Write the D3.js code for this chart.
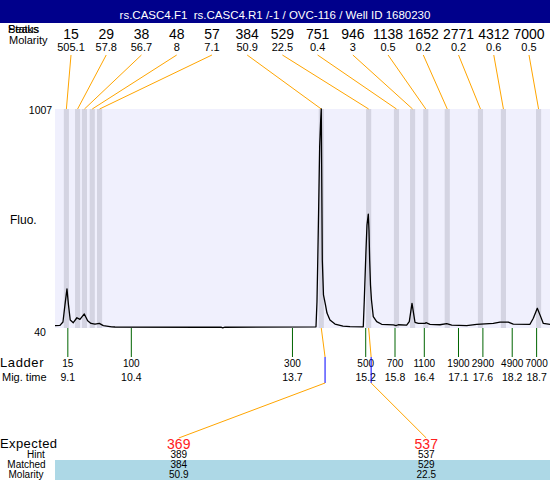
<!DOCTYPE html>
<html><head><meta charset="utf-8">
<script src="https://cdn.jsdelivr.net/npm/d3@7"></script>
<style>body{margin:0;background:#fff} svg{display:block;font-family:"Liberation Sans",Arial,sans-serif}</style>
</head><body><svg id="c" width="550" height="480"></svg>
<script>
const title = "rs.CASC4.F1  rs.CASC4.R1 /-1 / OVC-116 / Well ID 1680230";
const peakSizes = [15,29,38,48,57,384,529,751,946,1138,1652,2771,4312,7000];
const peakMolarity = ["505.1","57.8","56.7","8","7.1","50.9","22.5","0.4","3","0.5","0.2","0.2","0.6","0.5"];
const peakTimes = [9.07,9.30,9.44,9.60,9.75,14.29,15.26,15.83,16.16,16.43,16.87,17.55,18.02,18.74];
const ladderSizes = [15,100,300,500,700,1100,1900,2900,4900,7000];
const ladderTimes = [9.1,10.4,13.7,15.2,15.8,16.4,17.1,17.6,18.2,18.7];
const yTicks = [40,1007];
const traceTime = [8.837,8.939,9.000,9.041,9.082,9.113,9.149,9.211,9.286,9.348,9.437,9.506,9.574,9.656,9.744,9.826,9.998,10.066,11.806,12.236,12.271,12.318,14.182,14.202,14.217,14.237,14.257,14.278,14.290,14.311,14.335,14.376,14.407,14.468,14.571,14.735,14.878,15.150,15.171,15.206,15.226,15.253,15.267,15.281,15.298,15.318,15.355,15.425,15.527,15.765,15.820,15.867,16.039,16.092,16.148,16.209,16.277,16.414,16.434,16.516,16.721,16.858,16.961,17.268,17.473,17.813,17.950,18.120,18.222,18.564,18.632,18.714,18.783,18.837,18.974];
const traceFluo = [46,47,62,138,209,138,71,59,81,74,98,68,56,53,56,46,41,40,39,39,36,39,41,152,324,574,840,958,1007,337,182,138,102,71,53,44,42,41,160,382,492,541,470,337,226,160,86,64,52,49,46,50,48,64,145,61,56,56,59,52,50,55,48,46,52,56,62,62,53,52,79,123,86,56,52];
const expectedSizes = ["369","537"];
const hintSizes = [389,537];
const matchedPeak = [5,6];
const matchedSizes = ["384","529"];
const matchedMolarity = ["50.9","22.5"];

const svg = d3.select("#c");
const L=55,R=550,T=109,B=328;
const x = d3.scaleLinear().domain([8.837,18.974]).range([L,R]);
const y = d3.scaleLinear().domain([40,1007]).range([327,T]);
const sizeToTime = d3.scaleLinear().domain(ladderSizes).range(ladderTimes);
const ORANGE="#ffa500";

// header
svg.append("rect").attr("x",0).attr("y",0).attr("width",550).attr("height",23).attr("fill","#00008b");
svg.append("text").attr("x",275).attr("y",19).attr("text-anchor","middle").attr("fill","#fff")
  .attr("font-size",11.5).style("white-space","pre").text(title);

// left header labels (overlapping as in original)
svg.append("text").attr("x",8).attr("y",32.5).attr("font-size",11).text("Peaks");
svg.append("text").attr("x",8).attr("y",32.5).attr("font-size",11).text("Status");
svg.append("text").attr("x",9).attr("y",44).attr("font-size",11).text("Molarity");

// plot background
svg.append("rect").attr("x",L).attr("y",T).attr("width",R-L).attr("height",B-T).attr("fill","#f0f0fd");
const bw = 0.105;
svg.append("g").selectAll("rect").data(peakTimes).join("rect")
  .attr("x",d=>x(d-bw/2)).attr("width",d=>x(d+bw/2)-x(d-bw/2))
  .attr("y",T).attr("height",B-T).attr("fill","#d4d4e2");

// top labels
const lx = d3.scalePoint().domain(d3.range(peakSizes.length)).range([71,529]);
svg.append("g").selectAll("text").data(peakSizes).join("text")
  .attr("x",(d,i)=>lx(i)).attr("y",39).attr("text-anchor","middle").attr("font-size",14).text(d=>d);
svg.append("g").selectAll("text").data(peakMolarity).join("text")
  .attr("x",(d,i)=>lx(i)).attr("y",50.5).attr("text-anchor","middle").attr("font-size",11).text(d=>d);
svg.append("g").selectAll("line").data(peakTimes).join("line")
  .attr("x1",(d,i)=>lx(i)).attr("y1",55).attr("x2",d=>x(d)).attr("y2",T)
  .attr("stroke",ORANGE).attr("stroke-width",1);

// y labels
svg.append("text").attr("x",40.5).attr("y",114).attr("text-anchor","middle").attr("font-size",10.5).text(yTicks[1]);
svg.append("text").attr("x",40).attr("y",336).attr("text-anchor","middle").attr("font-size",10.5).text(yTicks[0]);
svg.append("text").attr("x",10).attr("y",224).attr("font-size",12).text("Fluo.");

// trace
const pts = traceTime.map((t,i)=>[t,traceFluo[i]]);
svg.append("path").datum(pts).attr("fill","none").attr("stroke","#000").attr("stroke-width",1.3)
  .attr("stroke-linejoin","round")
  .attr("d",d3.line().x(d=>x(d[0])).y(d=>y(d[1])));

// ladder
svg.append("g").selectAll("line").data(ladderTimes).join("line")
  .attr("x1",d=>x(d)).attr("x2",d=>x(d)).attr("y1",B).attr("y2",357)
  .attr("stroke","#006400").attr("stroke-width",1);
svg.append("text").attr("x",0).attr("y",366.5).attr("font-size",13).attr("letter-spacing",0.6).text("Ladder");
svg.append("text").attr("x",2).attr("y",380.5).attr("font-size",11).text("Mig. time");
svg.append("g").selectAll("text").data(ladderSizes).join("text")
  .attr("x",(d,i)=>x(ladderTimes[i])).attr("y",366.5).attr("text-anchor","middle").attr("font-size",10).text(d=>d);
svg.append("g").selectAll("text").data(ladderTimes).join("text")
  .attr("x",d=>x(d)).attr("y",380.5).attr("text-anchor","middle").attr("font-size",10.5).text(d=>d.toFixed(1));

// bottom table
svg.append("rect").attr("x",L).attr("y",460).attr("width",R-L).attr("height",20).attr("fill","#add8e6");
const col = d3.scaleBand().domain(d3.range(expectedSizes.length)).range([L,R]);
const cx = i=>col(i)+col.bandwidth()/2;
svg.append("text").attr("x",0).attr("y",448).attr("font-size",13).attr("letter-spacing",0.4).text("Expected");
svg.append("text").attr("x",36).attr("y",458.3).attr("text-anchor","middle").attr("font-size",10).text("Hint");
svg.append("text").attr("x",26.5).attr("y",468.3).attr("text-anchor","middle").attr("font-size",10).text("Matched");
svg.append("text").attr("x",26).attr("y",477.5).attr("text-anchor","middle").attr("font-size",10).text("Molarity");
const tbl = [[expectedSizes,448.5,14,"#ff2020"],[hintSizes,458.3,10,"#000"],[matchedSizes,468.3,10,"#000"],[matchedMolarity,477.5,10,"#000"]];
tbl.forEach(([arr,yy,fs,c])=>{
  svg.append("g").selectAll("text").data(arr).join("text")
    .attr("x",(d,i)=>cx(i)).attr("y",yy).attr("text-anchor","middle").attr("font-size",fs).attr("fill",c).text(d=>d);
});

// mapping lines
hintSizes.forEach((h,i)=>{
  const hx = x(sizeToTime(h));
  const px = x(peakTimes[matchedPeak[i]]);
  svg.append("line").attr("x1",px).attr("y1",B).attr("x2",hx).attr("y2",357).attr("stroke",ORANGE);
  svg.append("line").attr("x1",hx).attr("y1",357).attr("x2",hx).attr("y2",383).attr("stroke","#0000ff");
  svg.append("line").attr("x1",hx).attr("y1",383).attr("x2",cx(i)).attr("y2",438).attr("stroke",ORANGE);
});
</script></body></html>
